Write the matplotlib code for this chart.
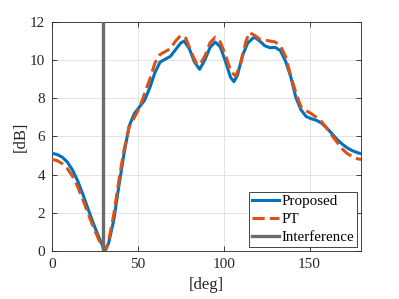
import matplotlib
matplotlib.use("Agg")
import matplotlib.pyplot as plt

# angles [deg] and gains [dB]
ang_prop = [0, 3, 6, 9, 12, 15, 18, 21, 24, 27, 30, 31, 33, 36, 39, 42, 45, 48, 51, 54,
            57, 60, 63, 66, 69, 72, 75, 77, 80, 83, 86, 89, 92, 95, 98, 101, 104, 106,
            108, 111, 114, 117, 118, 121, 124, 127, 130, 133, 136, 139, 142, 145, 148,
            151, 154, 157, 160, 163, 166, 169, 172, 175, 178, 180]
gain_prop = [5.12, 5.06, 4.92, 4.66, 4.25, 3.68, 2.98, 2.22, 1.48, 0.80, 0.18, 0.00, 0.40,
             1.60, 3.40, 5.10, 6.55, 7.20, 7.55, 7.90, 8.55, 9.35, 9.90, 10.05, 10.20,
             10.55, 10.90, 11.00, 10.60, 9.90, 9.52, 10.00, 10.65, 10.95, 10.70, 9.95,
             9.10, 8.87, 9.20, 10.25, 10.90, 11.15, 11.20, 11.00, 10.75, 10.65, 10.67,
             10.50, 9.95, 9.15, 8.05, 7.40, 7.05, 6.93, 6.85, 6.70, 6.45, 6.15, 5.85,
             5.60, 5.40, 5.25, 5.15, 5.10]

ang_pt = [0, 3, 6, 9, 12, 15, 18, 21, 24, 27, 30, 31, 33, 36, 39, 42, 45, 48, 51, 54,
          57, 60, 63, 66, 69, 72, 75, 78, 81, 84, 86, 89, 92, 95, 98, 101, 104, 107,
          110, 113, 115, 118, 121, 124, 127, 130, 133, 136, 139, 142, 145, 148, 151,
          154, 157, 160, 163, 166, 169, 172, 175, 178, 180]
gain_pt = [4.80, 4.74, 4.58, 4.32, 3.92, 3.38, 2.70, 1.98, 1.28, 0.66, 0.12, 0.00, 0.50,
           1.90, 3.70, 5.30, 6.50, 7.00, 7.50, 8.25, 9.00, 9.85, 10.30, 10.45, 10.60,
           11.00, 11.30, 11.15, 10.45, 9.85, 9.75, 10.20, 10.90, 11.20, 10.95, 10.30,
           9.45, 9.15, 9.85, 11.00, 11.45, 11.30, 11.10, 11.05, 11.00, 10.95, 10.75,
           10.20, 9.20, 8.30, 7.55, 7.35, 7.20, 7.00, 6.78, 6.43, 6.05, 5.70, 5.35,
           5.10, 4.95, 4.83, 4.80]

interf_ang = 30

plt.rcParams['font.family'] = ['Liberation Serif', 'DejaVu Serif']
plt.rcParams['mathtext.fontset'] = 'stix'

fig = plt.figure(figsize=(3.99, 2.99), dpi=100)
ax = fig.add_axes([0.130, 0.1605, 0.775, 0.766])

ax.plot(ang_prop, gain_prop, color='#0072BD', lw=2.2, label='Proposed', zorder=3)
ax.plot(ang_pt, gain_pt, color='#D95319', lw=2.2, ls=(0, (4.0, 1.7)), label='PT', zorder=4)
ax.axvline(interf_ang, color='#6b6b6b', lw=2.4, label='Interference', zorder=5)

ax.set_xlim(0, 180)
ax.set_ylim(0, 12)
ax.set_xticks([0, 50, 100, 150])
ax.set_yticks([0, 2, 4, 6, 8, 10, 12])
ax.grid(True, color='#e3e3e3', lw=0.7)
ax.set_axisbelow(True)
ax.tick_params(direction='in', top=True, right=True, length=3.5, width=0.6,
               labelsize=11, colors='#262626', pad=5)
for s in ax.spines.values():
    s.set_color('#262626')
    s.set_linewidth(0.6)

ax.set_xlabel('[deg]', fontsize=12, color='#262626', labelpad=4)
ax.set_ylabel('[dB]', fontsize=12, color='#262626', labelpad=1)

leg = ax.legend(loc='lower right', fontsize=10.8, fancybox=False, framealpha=1,
                edgecolor='#262626', handlelength=1.85, handletextpad=0.15,
                labelspacing=0.3, borderpad=0.2, borderaxespad=0.25)
leg.get_frame().set_linewidth(0.6)

fig.savefig('out.png', dpi=100)
